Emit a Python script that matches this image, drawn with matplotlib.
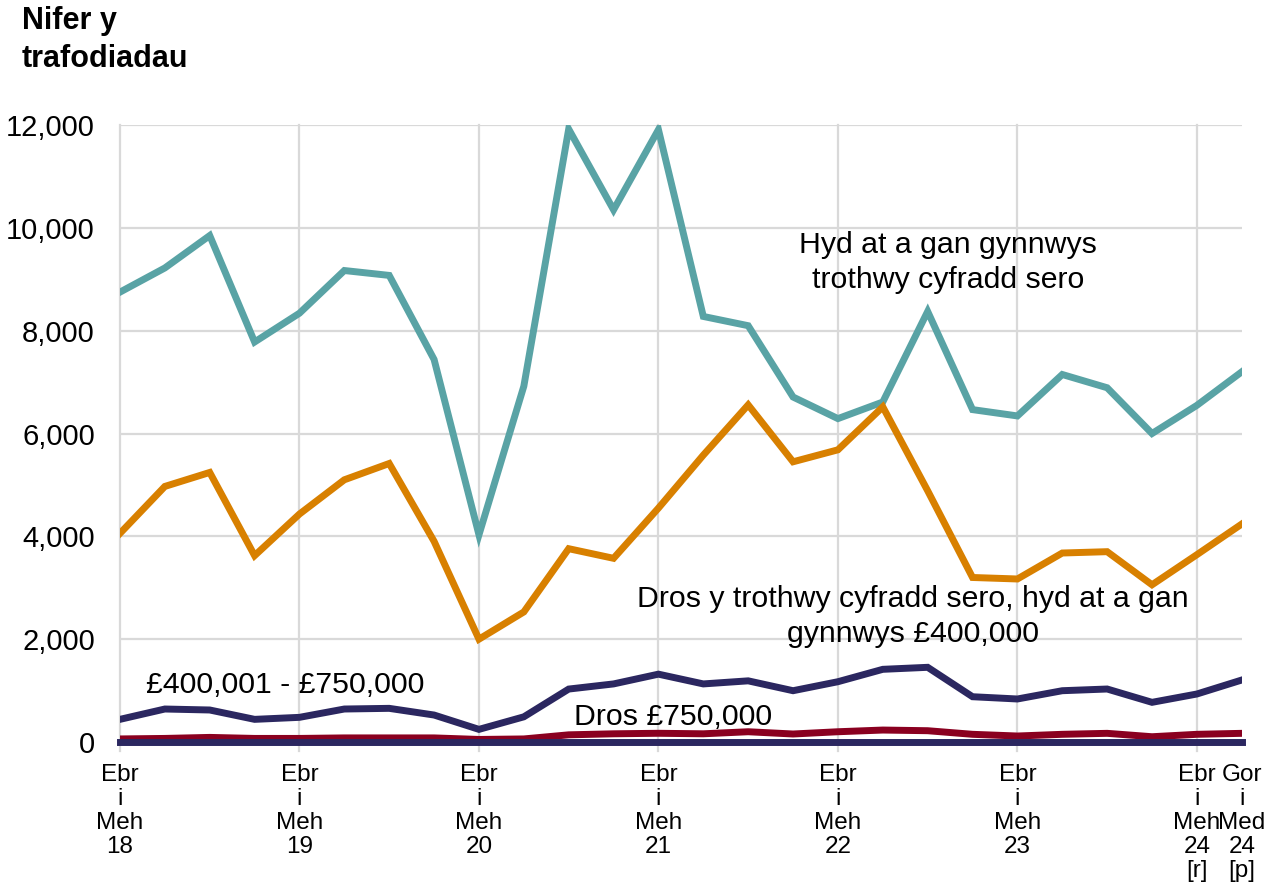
import matplotlib
matplotlib.use("Agg")
from matplotlib import pyplot as plt

plt.rcParams['font.family'] = ['Liberation Sans', 'DejaVu Sans']

# quarters Ebr-Meh 18 ... Gor-Med 24
quarters = list(range(26))
tick_pos = [0, 4, 8, 12, 16, 20, 24, 25]
tick_labels = ['Ebr\ni\nMeh\n18', 'Ebr\ni\nMeh\n19', 'Ebr\ni\nMeh\n20', 'Ebr\ni\nMeh\n21',
               'Ebr\ni\nMeh\n22', 'Ebr\ni\nMeh\n23', 'Ebr\ni\nMeh\n24\n[r]', 'Gor\ni\nMed\n24\n[p]']

zero_rate = [8750, 9220, 9850, 7780, 8340, 9170, 9075, 7440, 4030, 6920, 11920, 10350, 11910,
             8277, 8097, 6710, 6290, 6613, 8374, 6465, 6342, 7148, 6890, 6000, 6548, 7200]
to_400k = [4058, 4971, 5243, 3625, 4434, 5100, 5417, 3903, 2000, 2530, 3760, 3573, 4550,
           5580, 6557, 5450, 5683, 6518, 4887, 3200, 3171, 3676, 3702, 3058, 3644, 4240]
to_750k = [441, 642, 623, 441, 480, 642, 655, 525, 246, 490, 1030, 1130, 1320,
           1130, 1190, 998, 1173, 1414, 1453, 881, 837, 998, 1031, 772, 934, 1206]
over_750k = [60, 70, 90, 70, 70, 80, 80, 80, 50, 60, 140, 160, 170,
             160, 200, 156, 200, 233, 220, 150, 117, 150, 169, 103, 150, 169]

teal = '#59A3A5'
orange = '#D88000'
navy = '#2B2760'
red = '#8A0020'
grid_col = '#D9D9D9'


def draw_chart(name) -> None:
    fig = plt.figure(figsize=(12.71, 8.86), dpi=100)
    ax = fig.add_axes([0.0944, 0.1625, 0.8826, 0.6964])

    for x in tick_pos[:-1]:
        ax.axvline(x, ymin=-0.014, ymax=1, color=grid_col, lw=1.6, zorder=0, clip_on=False)
    for y in range(2000, 12001, 2000):
        ax.axhline(y, color=grid_col, lw=1.6, zorder=0)

    lw = 5
    ax.plot(quarters, zero_rate, color=teal, lw=lw, solid_joinstyle='miter')
    ax.plot(quarters, to_400k, color=orange, lw=lw, solid_joinstyle='miter')
    ax.plot(quarters, over_750k, color=red, lw=lw, solid_joinstyle='miter')
    ax.plot(quarters, to_750k, color=navy, lw=lw, solid_joinstyle='miter')

    ax.set_xlim(0, 25)
    ax.set_ylim(0, 12000)
    ax.set_yticks(range(0, 12001, 2000))
    ax.set_yticklabels(['{:,}'.format(v) for v in range(0, 12001, 2000)], fontsize=21)
    ax.set_xticks(tick_pos)
    ax.set_xticklabels(tick_labels, fontsize=17.5, linespacing=1.12)
    ax.tick_params(axis='both', length=0)
    ax.tick_params(axis='x', pad=16)
    ax.tick_params(axis='y', pad=18)

    for s in ['top', 'right', 'left']:
        ax.spines[s].set_visible(False)
    ax.spines['bottom'].set_color(navy)
    ax.spines['bottom'].set_linewidth(lw)
    ax.spines['bottom'].set_zorder(5)

    ax.text(18.45, 9330, 'Hyd at a gan gynnwys\ntrothwy cyfradd sero', fontsize=21.8,
            ha='center', va='center', linespacing=1.3)
    ax.text(17.67, 2440, 'Dros y trothwy cyfradd sero, hyd at a gan\ngynnwys £400,000', fontsize=21.8,
            ha='center', va='center', linespacing=1.3)
    ax.text(3.68, 1110, '£400,001 - £750,000', fontsize=21.8, ha='center', va='center')
    ax.text(12.32, 490, 'Dros £750,000', fontsize=21.8, ha='center', va='center')

    fig.text(22 / 1271, 1 - 6 / 886, 'Nifer y\ntrafodiadau', fontsize=22, fontweight='bold',
             ha='left', va='top', linespacing=1.35)

    fig.savefig(name, dpi=100)
    plt.close(fig)


if __name__ == '__main__':
    draw_chart('out.png')
